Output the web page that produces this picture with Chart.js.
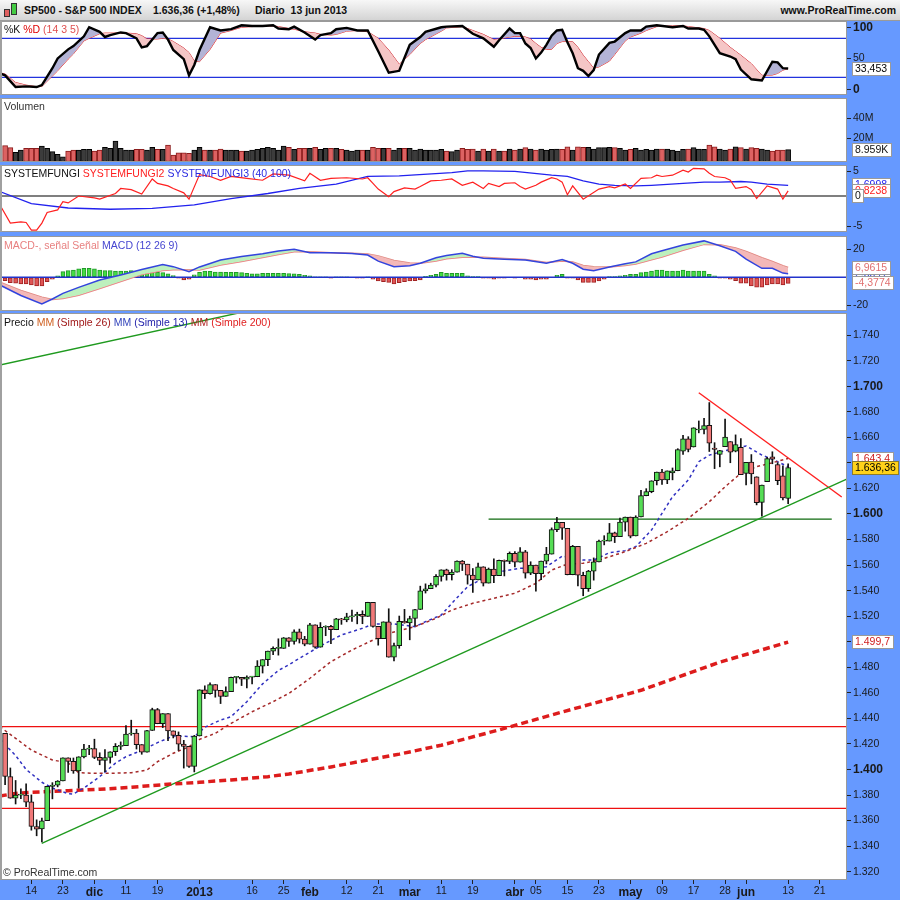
<!DOCTYPE html>
<html><head><meta charset="utf-8">
<script src="https://cdn.jsdelivr.net/npm/chart.js@4.4.1/dist/chart.umd.min.js"></script>
<style>
html,body{margin:0;padding:0}
body{width:900px;height:900px;background:#6699ff;position:relative;overflow:hidden;font-family:Arial,"Liberation Sans",Helvetica,sans-serif}
canvas{position:absolute;left:0}
.lg{position:absolute;left:4px;font-size:10.5px;line-height:12px;white-space:nowrap;color:#222}
#hdr{position:absolute;left:0;top:0;width:900px;height:20px;background:linear-gradient(#f7f7f7,#d4d4d4);border-bottom:1px solid #9a9a9a;font-size:10.5px;font-weight:bold;color:#111}
#hdr span{position:absolute;top:4px;white-space:nowrap}
.ic{position:absolute;border:1px solid #333}
</style></head>
<body>
<div id="hdr">
  <div class="ic" style="left:4px;top:9px;width:4px;height:6px;background:#e06060"></div>
  <div class="ic" style="left:11px;top:3px;width:4px;height:10px;background:#44cc44"></div>
  <span style="left:24px">SP500 - S&amp;P 500 INDEX</span>
  <span style="left:153px">1.636,36 (+1,48%)</span>
  <span style="left:255px">Diario&nbsp;&nbsp;13 jun 2013</span>
  <span style="right:4px">www.ProRealTime.com</span>
</div>
<canvas id="cS" width="900" height="74" style="top:21px"></canvas>
<canvas id="cV" width="900" height="64" style="top:98px"></canvas>
<canvas id="cF" width="900" height="67" style="top:165px"></canvas>
<canvas id="cM" width="900" height="75" style="top:236px"></canvas>
<canvas id="cP" width="900" height="587" style="top:313px"></canvas>
<div class="lg" style="top:23px"><span style="color:#111">%K</span> <span style="color:#e00000">%D</span> <span style="color:#e05050">(14 3 5)</span></div>
<div class="lg" style="top:100px;color:#333">Volumen</div>
<div class="lg" style="top:167px"><span style="color:#111">SYSTEMFUNGI</span> <span style="color:#ff2020">SYSTEMFUNGI2</span> <span style="color:#2a2ae0">SYSTEMFUNGI3 (40 100)</span></div>
<div class="lg" style="top:239px"><span style="color:#e88080">MACD-, señal Señal</span> <span style="color:#4646d0">MACD (12 26 9)</span></div>
<div class="lg" style="top:316px"><span style="color:#111">Precio</span> <span style="color:#d06020">MM</span> <span style="color:#a01818">(Simple 26)</span> <span style="color:#3344bb">MM</span> <span style="color:#2222aa">(Simple 13)</span> <span style="color:#b02020">MM</span> <span style="color:#e02020">(Simple 200)</span></div>
<div class="lg" style="top:866px;left:3px;color:#333">© ProRealTime.com</div>
<script>
// ---------- DATA ----------
const dates = ["2012-11-07","2012-11-08","2012-11-09","2012-11-12","2012-11-13","2012-11-14","2012-11-15","2012-11-16","2012-11-19","2012-11-20","2012-11-21","2012-11-23","2012-11-26","2012-11-27","2012-11-28","2012-11-29","2012-11-30",
"2012-12-03","2012-12-04","2012-12-05","2012-12-06","2012-12-07","2012-12-10","2012-12-11","2012-12-12","2012-12-13","2012-12-14","2012-12-17","2012-12-18","2012-12-19","2012-12-20","2012-12-21","2012-12-24","2012-12-26","2012-12-27","2012-12-28","2012-12-31",
"2013-01-02","2013-01-03","2013-01-04","2013-01-07","2013-01-08","2013-01-09","2013-01-10","2013-01-11","2013-01-14","2013-01-15","2013-01-16","2013-01-17","2013-01-18","2013-01-22","2013-01-23","2013-01-24","2013-01-25","2013-01-28","2013-01-29","2013-01-30","2013-01-31",
"2013-02-01","2013-02-04","2013-02-05","2013-02-06","2013-02-07","2013-02-08","2013-02-11","2013-02-12","2013-02-13","2013-02-14","2013-02-15","2013-02-19","2013-02-20","2013-02-21","2013-02-22","2013-02-25","2013-02-26","2013-02-27","2013-02-28",
"2013-03-01","2013-03-04","2013-03-05","2013-03-06","2013-03-07","2013-03-08","2013-03-11","2013-03-12","2013-03-13","2013-03-14","2013-03-15","2013-03-18","2013-03-19","2013-03-20","2013-03-21","2013-03-22","2013-03-25","2013-03-26","2013-03-27","2013-03-28",
"2013-04-01","2013-04-02","2013-04-03","2013-04-04","2013-04-05","2013-04-08","2013-04-09","2013-04-10","2013-04-11","2013-04-12","2013-04-15","2013-04-16","2013-04-17","2013-04-18","2013-04-19","2013-04-22","2013-04-23","2013-04-24","2013-04-25","2013-04-26","2013-04-29","2013-04-30",
"2013-05-01","2013-05-02","2013-05-03","2013-05-06","2013-05-07","2013-05-08","2013-05-09","2013-05-10","2013-05-13","2013-05-14","2013-05-15","2013-05-16","2013-05-17","2013-05-20","2013-05-21","2013-05-22","2013-05-23","2013-05-24","2013-05-28","2013-05-29","2013-05-30","2013-05-31",
"2013-06-03","2013-06-04","2013-06-05","2013-06-06","2013-06-07","2013-06-10","2013-06-11","2013-06-12","2013-06-13"];

const open = [1428.3,1394.5,1377.6,1379.9,1380.0,1374.6,1355.4,1353.4,1359.9,1386.8,
1387.8,1391.0,1409.2,1406.3,1398.8,1409.9,1416.0,1416.3,1409.5,1407.1,
1409.4,1413.9,1418.1,1418.6,1427.8,1428.5,1419.5,1413.5,1430.5,1446.8,
1435.8,1443.7,1430.2,1426.7,1419.8,1418.1,1402.4,1426.2,1462.4,1459.4,
1466.5,1461.9,1457.2,1461.0,1472.1,1472.1,1470.7,1472.3,1472.6,1480.9,
1486.0,1492.6,1494.8,1494.8,1503.0,1500.2,1507.8,1502.0,1498.1,1513.2,
1495.7,1511.3,1512.1,1509.4,1517.9,1517.0,1519.4,1520.3,1521.4,1519.8,
1530.9,1512.0,1502.4,1515.6,1487.9,1496.9,1516.0,1514.7,1518.2,1525.2,
1539.8,1541.5,1544.3,1551.2,1556.2,1552.5,1554.5,1563.2,1560.7,1552.1,
1548.3,1558.7,1545.9,1556.9,1551.7,1563.8,1562.9,1569.2,1562.2,1570.3,
1553.7,1560.0,1553.3,1563.1,1568.6,1587.7,1593.4,1588.8,1552.4,1574.6,
1552.0,1541.6,1555.3,1562.5,1578.8,1578.8,1585.2,1582.3,1593.6,1597.6,
1582.8,1597.6,1614.4,1617.5,1626.0,1632.7,1626.7,1632.1,1633.8,1649.1,
1658.8,1652.4,1665.7,1666.2,1669.4,1651.6,1646.7,1652.6,1656.6,1649.1,
1652.1,1631.7,1640.7,1629.1,1609.0,1625.3,1644.7,1638.6,1629.9,1612.2];
const high = [1428.3,1401.2,1391.4,1384.9,1388.8,1380.1,1360.6,1362.0,1386.9,1389.7,
1391.3,1409.2,1409.2,1409.0,1410.0,1419.7,1418.9,1423.7,1413.1,1415.6,
1413.9,1420.3,1421.6,1434.3,1438.6,1431.4,1419.5,1430.7,1448.0,1447.8,
1443.7,1443.7,1430.2,1429.4,1422.8,1418.1,1426.7,1462.4,1465.5,1467.9,
1466.5,1461.9,1464.7,1472.3,1472.8,1472.1,1473.3,1473.0,1485.2,1486.0,
1492.6,1496.1,1502.3,1503.3,1503.2,1509.4,1509.9,1504.2,1514.4,1513.2,
1515.0,1512.5,1512.9,1518.3,1518.3,1522.3,1524.7,1523.1,1524.2,1530.9,
1530.9,1512.0,1515.6,1525.8,1499.0,1520.1,1525.3,1520.0,1525.3,1543.5,
1545.3,1545.8,1552.5,1556.3,1556.8,1556.4,1563.3,1563.6,1560.7,1557.3,
1561.6,1558.7,1557.7,1564.9,1564.0,1564.0,1570.3,1570.6,1573.7,1571.5,
1562.6,1560.0,1563.1,1573.9,1589.1,1597.4,1593.4,1588.8,1575.4,1574.6,
1554.4,1555.9,1565.6,1579.6,1583.0,1592.6,1585.8,1596.7,1597.6,1597.6,
1598.6,1618.5,1619.8,1626.0,1632.8,1635.0,1633.7,1636.0,1651.1,1661.5,
1660.5,1667.5,1672.8,1674.9,1687.2,1655.8,1649.8,1674.2,1656.6,1661.9,
1659.0,1640.4,1646.5,1629.1,1622.6,1644.4,1648.7,1640.1,1637.7,1639.3];
const low = [1388.1,1377.5,1373.0,1377.2,1370.8,1352.5,1348.1,1343.4,1359.9,1377.0,
1386.4,1391.0,1397.7,1397.0,1385.4,1409.0,1411.6,1408.5,1403.7,1398.2,
1405.0,1410.9,1415.6,1418.6,1426.8,1416.0,1411.9,1413.5,1430.5,1435.8,
1432.8,1422.6,1424.7,1414.9,1401.1,1401.6,1398.1,1426.2,1455.5,1459.0,
1456.6,1451.6,1457.2,1461.0,1467.6,1465.7,1463.8,1467.0,1472.6,1475.5,
1481.2,1489.9,1489.5,1494.8,1496.3,1498.0,1499.0,1496.8,1498.1,1495.0,
1495.7,1504.7,1498.5,1509.4,1513.6,1515.6,1515.9,1514.0,1514.1,1519.8,
1511.4,1497.3,1502.4,1487.9,1485.0,1494.9,1514.5,1501.5,1512.3,1525.2,
1538.1,1541.5,1542.9,1547.4,1548.2,1548.3,1554.5,1555.7,1545.1,1538.6,
1548.3,1543.6,1545.9,1546.2,1551.7,1551.5,1561.1,1558.5,1562.2,1549.8,
1552.5,1539.5,1548.6,1560.9,1568.6,1586.2,1580.0,1552.3,1552.4,1543.7,
1536.0,1539.4,1548.2,1562.5,1575.8,1578.8,1577.6,1582.3,1586.5,1581.3,
1582.8,1597.6,1614.2,1616.6,1622.7,1623.1,1623.7,1626.7,1633.8,1646.7,
1648.6,1652.4,1663.5,1662.7,1648.9,1635.5,1636.9,1652.6,1640.1,1648.6,
1630.7,1622.7,1623.6,1607.1,1598.2,1625.3,1639.3,1622.9,1610.9,1608.1];
const close = [1394.5,1377.5,1379.9,1380.0,1374.5,1355.5,1353.3,1359.9,1386.9,1387.8,
1391.0,1409.2,1406.3,1398.9,1409.9,1416.0,1416.2,1409.5,1407.1,1409.3,
1413.9,1418.1,1418.6,1427.8,1428.5,1419.5,1413.6,1430.4,1446.8,1435.8,
1443.7,1430.2,1426.7,1419.8,1418.1,1402.4,1426.2,1462.4,1459.4,1466.5,
1461.9,1457.2,1461.0,1472.1,1472.1,1470.7,1472.3,1472.6,1480.9,1486.0,
1492.6,1494.8,1494.8,1503.0,1500.2,1507.8,1502.0,1498.1,1513.2,1495.7,
1511.3,1512.1,1509.4,1517.9,1517.0,1519.4,1520.3,1521.4,1519.8,1530.9,
1512.0,1502.4,1515.6,1487.9,1496.9,1516.0,1514.7,1518.2,1525.2,1539.8,
1541.5,1544.3,1551.2,1556.2,1552.5,1554.5,1563.2,1560.7,1552.1,1548.3,
1558.7,1545.8,1556.9,1551.7,1563.8,1562.9,1569.2,1562.2,1570.3,1553.7,
1560.0,1553.3,1563.1,1568.6,1587.7,1593.4,1588.9,1552.4,1574.6,1552.0,
1541.6,1555.3,1562.5,1578.8,1578.8,1585.2,1582.2,1593.6,1597.6,1582.7,
1597.6,1614.4,1617.5,1626.0,1632.7,1626.7,1633.7,1633.8,1650.3,1658.8,
1650.5,1667.5,1666.3,1669.2,1655.4,1650.5,1649.6,1660.1,1648.4,1654.4,
1630.7,1640.4,1631.4,1608.9,1622.6,1643.4,1642.8,1626.1,1612.5,1636.36];

// volume (millions)
const volume = [12.9,11,6.4,8.6,10.2,10.2,10.2,12.5,10.2,7,
4.4,2.1,7.7,8.6,8.6,9.3,9.3,7.7,8.6,11.2,
10.2,17.4,10.2,8.6,8.6,9.3,9.3,8.6,11.2,9.3,
9.3,13.5,3.8,6,6,5.4,8.6,11.2,8.6,8.6,
8.6,9.6,8.6,8.6,8.6,7.7,7.7,8.6,9.3,10.2,
11.2,10.2,8.6,12.5,11.2,9.3,10.2,10.2,10.2,11.2,
9.3,10.2,10.2,10.2,9.3,8.6,7.7,8.6,8.6,8.6,
11.2,10.2,10.2,10.2,8.6,10.2,10.2,10.2,8.6,9.6,
8.6,8.6,8.6,9.3,7.7,7,8.6,10.2,9.3,9.6,
7.7,9.6,7.7,9.6,7.7,7.7,9.6,8.6,9.6,10.9,
9.6,8.6,9.6,8.6,9.3,9.6,9.3,11.8,8.6,11.8,
11.2,11.2,9.6,10.9,10.9,11.2,10.9,10.2,8.6,9.3,
10.2,8.6,9.3,8.6,9.6,9.6,9.6,8.6,7.7,9.3,
9.6,10.9,9.6,9.3,13.5,11.8,9.6,8.6,9.6,11.8,
10.9,9.6,10.9,10.2,9.6,8.6,7.7,8.6,8.6,8.959];

// stochastic %K / %D (sampled at candle index)
const stIdx = [-1,0,2,4,6,7,9,10,12,13,15,16,18,19,20,22,23,25,26,27,29,30,31,32,34,35,36,37,39,41,43,45,47,49,51,52,54,55,57,59,60,62,63,65,67,69,71,73,75,77,79,80,83,84,87,89,91,93,94,96,97,98,99,100,101,102,103,104,105,106,107,108,109,110,111,112,113,115,116,118,119,121,122,124,127,129,130,132,133,134,136,138,139,140,142,144,146,147,148,149];
const stK = [26,23,5,6,5,8,34,49,63,68,83,97,90,82,85,89,88,80,66,68,88,89,78,62,48,23,39,62,97,92,94,100,99,99,100,95,94,98,89,78,85,88,94,96,92,92,60,27,30,70,82,90,97,98,99,87,80,67,77,95,88,88,72,65,49,58,70,84,92,93,74,57,34,30,22,31,55,73,75,88,92,92,98,100,97,99,95,95,93,83,57,52,48,32,17,15,44,43,34,33.453];
const stD = [27,25,12,8,5.5,6,22,30,48,56,76,80,87,88,88,88,88,87,84,79,79,80,79,75,65,58,45,44,63,88,92,97,98,99,99,98,95,94,90,88,86,85,86,91,92,90,80,62,40,55,72,78,91,96,98,92,86,78,79,82,83,83,82,79,72,66,63,63,72,75,75,75,66,54,44,34,36,45,55,76,82,88,92,98,99,99,98,96,95,92,80,66,60,54,41,23,23.5,26,31,33.5];

// SYSTEMFUNGI2 (red) / SYSTEMFUNGI3 (blue)
const sf2Idx = [-1,1,3,4,5,6,7,8,10,11,12,14,17,18,21,22,24,26,28,29,31,32,34,35,37,39,41,43,46,49,51,54,57,58,60,62,65,68,69,70,71,73,74,76,78,79,81,83,85,87,89,91,92,94,95,97,98,99,101,102,104,105,106,107,108,110,113,115,116,118,119,121,123,124,125,127,129,130,131,133,134,135,137,138,139,141,142,143,145,147,148,149];
const sf2 = [-1.4,-4.3,-4.1,-4.2,-5.4,-5.4,-4.3,-2.6,-2.2,-0.9,-1.1,0,-0.3,-0.5,0.4,1.2,1,0.3,2.7,2,1.6,1.2,0.5,-0.5,3.4,3.1,2.5,3.1,2.8,2.5,3.5,3.3,2.4,3.6,2.5,2.8,2.9,2.7,2.9,2,1.1,-0.1,0.7,1.3,1.1,1.5,2.4,2.5,2.7,1.7,2.2,1.2,2,1.5,2,2.1,1.5,1.1,1.7,2.2,2.9,2.7,2.2,0.2,1.6,-0.5,1.1,1.5,1.3,1.9,1.2,2.8,2.9,3.3,3.1,3.3,4.1,3.8,4.4,4.3,3.6,3.1,2.9,2.5,1.2,1.5,1,-0.4,1.6,1.1,-0.5,0.8238];
const sf3Idx = [-1,5,12,20,28,36,43,50,56,63,69,75,85,88,91,97,104,107,110,113,116,120,123,129,133,136,140,142,145,149];
const sf3 = [0.7,-1.2,-1.9,-2.1,-1.96,-1.4,-0.4,0.4,1.2,1.9,3.1,3.2,3.7,4.0,4.0,3.9,3.3,3.1,2.4,1.9,1.7,1.6,1.7,2.0,2.2,2.2,2.3,2.2,1.9,1.6998];

// MACD (12 26 9)
const mIdx = [-1,3,7,9,11,14,18,22,26,30,32,35,37,41,45,49,52,55,58,62,66,69,71,74,77,79,82,84,87,89,91,95,99,103,106,108,110,112,115,118,120,123,125,129,133,136,139,141,144,146,148,149];
const macdLine = [-5.5,-13,-19,-15.5,-11.5,-7.2,-2,1.7,5.5,9.2,7.6,4.0,7.4,12.4,14.8,16.8,18.8,20,17.6,17.6,17,15.9,11.5,7.6,8.2,10,14,15.6,17.1,15,13.6,12.9,12.3,10,12.7,10,5.8,4.7,7.3,9.6,11,16.8,18.9,23,26,22.5,18.5,13,6.4,6.4,3,2.5841];
const signalLine = [-3.5,-9.5,-14.2,-15.8,-15.2,-12.8,-8,-3,1.9,4.9,5.4,5.3,5.2,8.8,11.2,14.2,16.2,18.2,18.3,17.6,17.2,16.6,15.3,12,10.2,10,11.7,13.2,14.3,14.4,14.3,13.5,12.7,10.6,11.6,11,8.5,7.5,7.3,8.5,9.5,12.5,14.5,19.3,23.5,23.2,21,18.5,14,11.3,8.3,6.9615];
const histo = [-2.4,-3.8,-4.3,-4.8,-4.8,-5.5,-6.2,-6.2,-3.1,-1.4,
1,4,4.8,5.2,6,6.4,6.4,6,5.2,4.8,
4.8,4.5,4.5,4.5,4.8,4.5,4,4,3.6,3.6,
3.3,2.5,1.2,-0.7,-1.9,-1.4,1.7,3.6,4.5,4.3,
3.8,3.8,3.6,3.6,3.6,3.3,2.9,2.5,2.5,2.9,
2.9,2.9,2.9,2.9,2.6,2.5,2.1,1.4,1,0.2,
0.1,0.1,-0.7,0.1,0.1,0.1,0,-0.7,-0.7,0.1,
-1.4,-2.6,-3.1,-3.6,-4.8,-3.8,-3.1,-2.6,-2.4,-1.9,
0.7,1.4,2.1,3.6,2.9,2.9,2.9,2.9,1,0.5,
0.5,-0.7,-0.7,-1.4,-0.7,-0.7,0,-0.7,0,-1.4,
-1.4,-1.9,-1.4,-1.4,0,1.4,2.1,-0.7,-0.7,-1.9,
-3.6,-3.6,-3.6,-2.6,-1.4,0.5,0.5,1,1.4,2.1,
2.1,3.3,3.8,4.5,5.2,5.2,4.5,4.5,4.5,5.2,
4.5,4.5,4.5,4.5,2.1,1,-0.7,-0.7,-1.4,-2.4,
-4.3,-4.3,-6.2,-7.1,-7.1,-5.5,-4.8,-4.8,-5.5,-4.3774];

// moving averages (sampled)
const ma13Idx = [-1,2,4,7,9,12,13,15,18,21,23,26,29,32,36,38,41,43,46,49,52,54,56,60,64,68,70,74,78,80,83,85,88,91,94,98,101,103,106,110,112,115,118,120,123,125,127,130,132,134,137,141,144,146,149];
const ma13 = [1423.5,1411,1400,1390,1385.5,1381,1380.8,1385.5,1394.4,1405,1410,1415,1421,1426.2,1425.7,1433,1438.7,1441.3,1453,1467,1477.5,1482,1487,1496.7,1505.3,1510.5,1513.9,1513.9,1511.8,1515.7,1520.9,1530.1,1543.1,1549.6,1554.8,1557.5,1557.5,1558.7,1567,1563.9,1563.9,1569.7,1571.3,1574.4,1587.4,1600.5,1613.5,1626.6,1640.9,1646.1,1649.5,1653.2,1646.1,1642.8,1637];
const ma26Idx = [-1,2,5,9,12,14,17,20,24,27,29,32,35,37,40,43,47,51,54,58,62,66,70,73,78,82,85,89,93,97,101,104,107,110,113,118,122,126,130,134,137,140,143,146,149];
const ma26 = [1433.5,1424.4,1415.2,1407.4,1405.3,1397.5,1397,1397,1397.5,1399.6,1406.1,1412.7,1417.8,1423.6,1428.3,1436.1,1445.2,1453.1,1459.6,1471.4,1484.4,1493.5,1501.3,1506.6,1511.8,1518.3,1524.8,1530.1,1534,1537.9,1545.7,1556.1,1560.8,1561.4,1563.9,1570.5,1577,1586.1,1596.6,1609.6,1621.3,1631.8,1637,1640.1,1643.4];
const ma200Idx = [-1,2,5,12,18,24,31,37,43,50,54,62,75,83,94,106,121,136,149];
const ma200 = [1379.2,1381.3,1382.1,1383.4,1384.5,1386.1,1388.4,1390,1391.8,1394.4,1396.5,1402,1412,1419,1431,1445,1462,1484,1499.7];

// drawn lines [index, price]
const trendGreen = [[6.97,1342.2],[160.3,1627.5]];
const trendGreenTop = [[-1,1716.6],[50,1762.3]];
const trendRed = [[132.0,1694.9],[159.2,1613.3]];
const levelGreen = [[92,1596],[157.3,1596]];
const levelsRed = [1433.5,1369.6];

// axis ticks
const tickIdx = [5,11,17,23,29,37,47,53,58,65,71,77,83,89,97,101,107,113,119,125,131,137,141,149,155];
const tickLbl = ['14','23','dic','11','19','2013','16','25','feb','12','21','mar','11','19','abr','05','15','23','may','09','17','28','jun','13','21'];
const boldLbl = ['dic','2013','feb','mar','abr','may','jun'];
const priceTicks = [1320,1340,1360,1380,1400,1420,1440,1460,1480,1500,1520,1540,1560,1580,1600,1620,1640,1660,1680,1700,1720,1740];
const boldPrice = [1400,1500,1600,1700];

// ---------- RENDER ----------
const FF = 'Arial, "Liberation Sans", Helvetica, sans-serif';
Chart.defaults.font.family = FF;
Chart.defaults.font.size = 10.5;
Chart.defaults.color = '#1a1a1a';
const X_MIN = -0.97, X_MAX = 160.2;

function fmtEs(v, d){
  const s = Math.abs(v).toFixed(d).split('.');
  const ip = s[0].replace(/\B(?=(\d{3})+(?!\d))/g, '.');
  return (v < 0 ? '-' : '') + ip + (d ? ',' + s[1] : '');
}
const zip = (ix, vs) => ix.map((x, k) => ({x, y: vs[k]}));
const seg = p => p.map(q => ({x: q[0], y: q[1]}));
const hl = v => [{x: X_MIN - 2, y: v}, {x: X_MAX + 2, y: v}];
const ln = (data, color, width, dash, order, extra) => Object.assign({type:'line', data, borderColor:color, borderWidth:width, borderDash:dash||[], pointRadius:0, tension:0, fill:false, order:order||5}, extra||{});
const last = a => a[a.length - 1];

const panelBg = {
  id:'panelBg',
  beforeDraw(c){ const a=c.chartArea, x=c.ctx; x.save(); x.fillStyle='#fff'; x.fillRect(a.left,a.top,a.right-a.left,a.bottom-a.top); x.restore(); },
  afterDraw(c){ const a=c.chartArea, x=c.ctx; x.save(); x.strokeStyle='#9a9a9a'; x.lineWidth=1;
    x.strokeRect(a.left+0.5,a.top+0.5,a.right-a.left-1,a.bottom-a.top-1);
    x.fillStyle='#a0a0a0'; x.fillRect(a.left,a.top,2,a.bottom-a.top); x.restore(); }
};
function deco(labels, boxes){
  return { id:'deco', afterDraw(c){
    const x=c.ctx, a=c.chartArea, ys=c.scales.y;
    x.save(); x.textBaseline='middle'; x.textAlign='left';
    labels.forEach(l=>{
      let py = Math.round(ys.getPixelForValue(l.v));
      py = Math.max(a.top+6, Math.min(a.bottom-6, py));
      x.strokeStyle='#222'; x.lineWidth=1; x.beginPath(); x.moveTo(a.right,py+0.5); x.lineTo(a.right+4,py+0.5); x.stroke();
      x.font=(l.b?'bold 12px ':'10.5px ')+FF; x.fillStyle='#1a1a1a'; x.fillText(l.t,a.right+6,py+0.5);
    });
    boxes.forEach(b=>{
      const py = Math.round(ys.getPixelForValue(b.v));
      x.font='10.5px '+FF;
      const w=Math.ceil(x.measureText(b.t).width)+6, h=14, bx=a.right+5, by=py-7;
      x.fillStyle=b.bg||'#fff'; x.fillRect(bx,by,w,h);
      x.strokeStyle=b.bd||'#9a9a9a'; x.lineWidth=1; x.strokeRect(bx+0.5,by+0.5,w-1,h-1);
      x.fillStyle=b.c; x.fillText(b.t,bx+3,py+0.5);
    });
    x.restore();
  }};
}
const xHidden = {type:'linear', min:X_MIN, max:X_MAX, offset:false, display:false};
const yHidden = (min,max) => ({type:'linear', position:'right', min, max, afterFit:a=>{a.width=53;a.paddingTop=0;a.paddingBottom=0;}, grid:{drawOnChartArea:false,drawTicks:false}, border:{display:false}, ticks:{display:false}});
const baseOpts = (scales) => ({responsive:false, animation:false, devicePixelRatio:1, events:[], layout:{padding:0}, plugins:{legend:{display:false}, tooltip:{enabled:false}}, scales});
const candleIdx = close.map((_, i) => i);
const UP='#55dd55', DOWN='#f07878';

// Stochastic
new Chart(document.getElementById('cS'), {
  type:'line',
  data:{datasets:[
    ln(zip(stIdx,stK),'#000',2.4,[],1,{fill:{target:1, above:'#b3b3d6', below:'#f5c6c6'}}),
    ln(zip(stIdx,stD),'#e02828',1,[],2),
    ln(hl(80),'#2233dd',1.2,[],3),
    ln(hl(20),'#2233dd',1.2,[],3)
  ]},
  options: baseOpts({x:xHidden, y:yHidden(-7.2,106.6)}),
  plugins:[panelBg, deco([{v:100,t:'100',b:true},{v:50,t:'50'},{v:0,t:'0',b:true}],[{v:last(stK),t:fmtEs(last(stK),3),c:'#000'}])]
});

// Volume
new Chart(document.getElementById('cV'), {
  type:'line',
  data:{datasets:[{type:'bar', data: zip(candleIdx, volume), base:-3, barThickness:5, grouped:false,
    backgroundColor: candleIdx.map(i => close[i]>=open[i] ? '#3c3c3c' : '#dc6262'),
    borderColor: candleIdx.map(i => close[i]>=open[i] ? '#000' : '#8a1c1c'), borderWidth:1, borderSkipped:false}]},
  options: baseOpts({x:xHidden, y:yHidden(-3,59.1)}),
  plugins:[panelBg, deco([{v:40,t:'40M'},{v:20,t:'20M'}],[{v:last(volume),t:fmtEs(last(volume)*1000,0)+'K',c:'#111'}])]
});

// SYSTEMFUNGI
new Chart(document.getElementById('cF'), {
  type:'line',
  data:{datasets:[
    ln(hl(0),'#000',1.2,[],4),
    ln(zip(sf3Idx,sf3),'#2222ee',1.3,[],2),
    ln(zip(sf2Idx,sf2),'#ff2020',1.2,[],1)
  ]},
  options: baseOpts({x:xHidden, y:yHidden(-5.71,4.92)}),
  plugins:[panelBg, deco([{v:5,t:'5'},{v:-5,t:'-5'}],[
    {v:last(sf3),t:fmtEs(last(sf3),4),c:'#2222ee'},
    {v:last(sf2),t:fmtEs(last(sf2),4),c:'#ff2020'},
    {v:0,t:'0',c:'#111'}])]
});

// MACD
new Chart(document.getElementById('cM'), {
  type:'line',
  data:{datasets:[
    ln(zip(mIdx,macdLine),'#3344dd',1.5,[],1,{fill:{target:1, above:'#bdf0bd', below:'#f4b8b8'}}),
    ln(zip(mIdx,signalLine),'#e88080',1.5,[],2),
    {type:'bar', data: zip(candleIdx, histo), barThickness:4, grouped:false, order:4,
     backgroundColor: histo.map(v => v>=0 ? '#44dd44' : '#e05555'),
     borderColor: histo.map(v => v>=0 ? '#22992a' : '#a02222'), borderWidth:1, borderSkipped:false},
    ln(hl(0),'#2233cc',1.5,[],3)
  ]},
  options: baseOpts({x:xHidden, y:yHidden(-24.1,29.5)}),
  plugins:[panelBg, deco([{v:20,t:'20'},{v:-20,t:'-20'}],[
    {v:last(macdLine),t:fmtEs(last(macdLine),4),c:'#3344dd'},
    {v:last(signalLine),t:fmtEs(last(signalLine),4),c:'#e07070'},
    {v:last(histo),t:fmtEs(last(histo),4),c:'#e07070'}])]
});

// Price
const xPrice = {type:'linear', min:X_MIN, max:X_MAX, offset:false, position:'bottom',
  afterBuildTicks:a=>{ a.ticks = tickIdx.map(v=>({value:v})); },
  afterFit:a=>{ a.height=20; a.paddingLeft=0; a.paddingRight=0; },
  grid:{drawOnChartArea:false, drawTicks:true, tickLength:4, color:'#222', offset:false},
  border:{display:false},
  ticks:{autoSkip:false, maxRotation:0, minRotation:0, padding:1, color:'#1a1a1a',
    callback:v=>tickLbl[tickIdx.indexOf(v)],
    font:c=>(c.tick && boldLbl.includes(tickLbl[tickIdx.indexOf(c.tick.value)])) ? {size:12, weight:'bold'} : {size:10.5}}
};
const yPrice = {type:'linear', position:'right', min:1313.5, max:1757.3,
  afterBuildTicks:a=>{ a.ticks = priceTicks.map(v=>({value:v})); },
  afterFit:a=>{ a.width=53; a.paddingTop=0; a.paddingBottom=0; },
  grid:{drawOnChartArea:false, drawTicks:true, tickLength:4, color:'#222'},
  border:{display:false},
  ticks:{autoSkip:false, padding:2, color:'#1a1a1a', callback:v=>fmtEs(v,0),
    font:c=>(c.tick && boldPrice.includes(c.tick.value)) ? {size:12, weight:'bold'} : {size:10.5}}
};
new Chart(document.getElementById('cP'), {
  type:'line',
  data:{datasets:[
    ln(hl(levelsRed[0]),'#ee1010',1.3,[],20),
    ln(hl(levelsRed[1]),'#ee1010',1.3,[],20),
    ln(seg(levelGreen),'#0f6a0f',1.4,[],20),
    ln(seg(trendGreen),'#1f9a1f',1.4,[],19),
    ln(seg(trendGreenTop),'#1f9a1f',1.4,[],19),
    ln(seg(trendRed),'#ff2020',1.4,[],19),
    ln(zip(ma200Idx,ma200),'#dd1c1c',3.5,[7,4],10),
    ln(zip(ma26Idx,ma26),'#a52a2a',1.5,[3,3],9),
    ln(zip(ma13Idx,ma13),'#3030c0',1.5,[3,3],9),
    {type:'bar', data: candleIdx.map(i=>({x:i, y:[low[i],high[i]]})), backgroundColor:'#111', barThickness:1, grouped:false, order:3},
    {type:'bar', data: candleIdx.map(i=>({x:i, y:[open[i],close[i]]})), grouped:false, order:2, barThickness:5, minBarLength:1,
     backgroundColor: candleIdx.map(i=>close[i]>=open[i]?UP:DOWN), borderColor:'#111', borderWidth:1, borderSkipped:false}
  ]},
  options: baseOpts({x:xPrice, y:yPrice}),
  plugins:[panelBg, deco([],[
    {v:last(ma13),t:fmtEs(last(ma13),1),c:'#3030c0'},
    {v:last(ma26),t:fmtEs(last(ma26),1),c:'#d02020'},
    {v:last(close),t:fmtEs(last(close),2),c:'#000',bg:'#ffd21a',bd:'#8a7a30'},
    {v:last(ma200),t:fmtEs(last(ma200),1),c:'#d02020'}])]
});
</script>
</body></html>
